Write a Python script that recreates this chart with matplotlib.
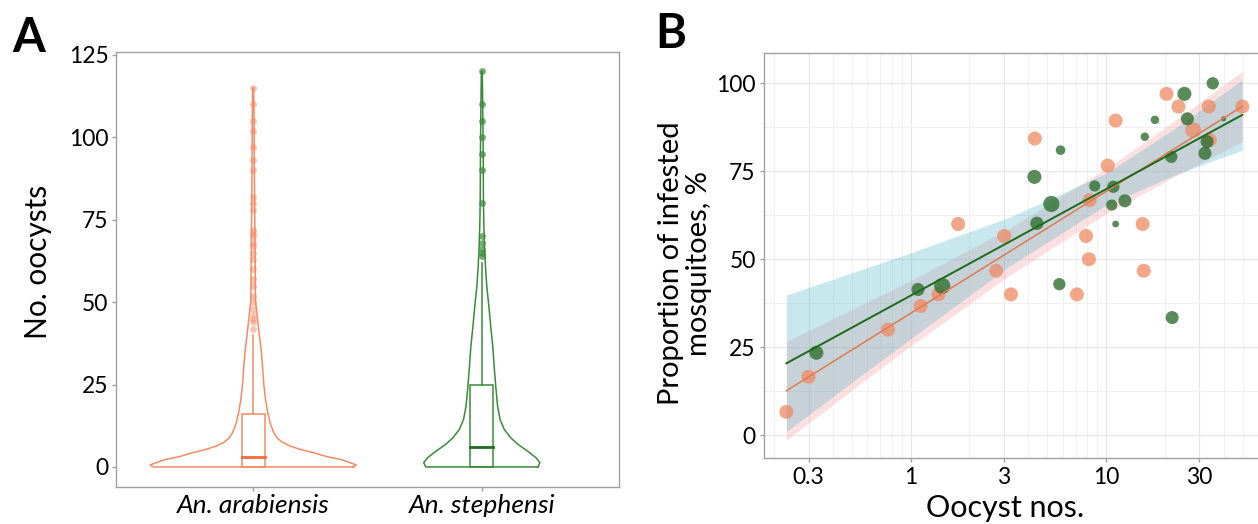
import numpy as np
import matplotlib
matplotlib.use('Agg')
import matplotlib.pyplot as plt
from matplotlib.patches import Rectangle

plt.rcParams['font.family'] = ['Lato', 'DejaVu Sans']

# ---------------- Panel A data: oocyst counts per mosquito ----------------
species = ['An. arabiensis', 'An. stephensi']

# violin outline: oocyst level and half width (category units)
arab_levels = [0, 0.6, 1.6, 2.3, 3.1, 4.3, 5.3, 6.3, 7.5, 8.8, 10.4, 12.9, 16.4, 20.4,
               25.4, 30.5, 35.5, 40.5, 45.6, 50.6, 60, 75, 90, 105, 115]
arab_half = [0.438, 0.451, 0.412, 0.381, 0.324, 0.265, 0.207, 0.163, 0.127, 0.105, 0.090,
             0.076, 0.064, 0.054, 0.046, 0.041, 0.035, 0.026, 0.018, 0.010, 0.009, 0.007,
             0.005, 0.004, 0.002]
steph_levels = [0, 1.3, 2.8, 4.8, 6.8, 8.8, 11.4, 14.4, 18.4, 24.4, 30.5, 36.5, 42.6, 48.6,
                54.6, 60.7, 66.7, 72.7, 80.8, 95, 110, 120]
steph_half = [0.245, 0.254, 0.237, 0.200, 0.159, 0.127, 0.098, 0.080, 0.069, 0.061, 0.054,
              0.048, 0.039, 0.031, 0.022, 0.016, 0.012, 0.009, 0.007, 0.006, 0.004, 0.002]

# box stats: q1, median, q3, upper whisker
arab_box = [0, 3, 16, 40]
steph_box = [0, 6, 25, 62]

arab_out = [42, 44, 45, 46, 48, 50, 52, 55, 57, 60, 63, 65, 67, 68, 70, 71, 72,
            78, 80, 82, 90, 93, 97, 102, 105, 110, 115]
steph_out = [64, 65, 66, 68, 70, 80, 90, 95, 100, 105, 110, 120]

# ---------------- Panel B data: infection prevalence vs oocyst load ----------------
orange_x = [0.231, 0.30, 0.765, 1.125, 1.387, 1.75, 2.74, 3.01, 3.26, 4.32, 7.1, 7.9,
            8.17, 8.24, 10.2, 11.2, 15.4, 15.6, 20.4, 23.5, 27.9, 33.6, 34.0, 49.9]
orange_y = [6.6, 16.6, 30.0, 36.7, 40.0, 60.0, 46.7, 56.6, 40.0, 84.3, 40.0, 56.6,
            50.0, 66.8, 76.6, 89.4, 60.0, 46.7, 97.0, 93.4, 86.7, 93.4, 83.9, 93.4]
orange_n = [30, 30, 30, 30, 30, 30, 30, 30, 30, 30, 30, 30,
            30, 30, 30, 30, 30, 30, 30, 30, 38, 30, 30, 30]

green_x = [0.329, 1.09, 1.45, 4.3, 4.43, 5.25, 5.77, 5.85, 8.75, 10.7, 10.9, 11.2,
           12.5, 15.8, 17.8, 21.6, 21.8, 25.2, 26.1, 32.1, 32.9, 35.2, 40.0]
green_y = [23.4, 41.4, 42.4, 73.4, 60.2, 65.7, 42.9, 81.0, 70.8, 65.4, 70.6, 60.0,
           66.6, 84.8, 89.6, 79.1, 33.4, 97.0, 89.9, 80.1, 83.4, 100.0, 89.9]
green_n = [30, 26, 40, 30, 27, 40, 23, 14, 19, 19, 23, 7,
           26, 11, 11, 23, 26, 30, 26, 26, 26, 23, 4]

# fitted lines (log-linear) and confidence bands
fit_x = [0.231, 0.562, 1.0, 3.162, 10.0, 22.4, 49.8]
green_line = [20.4, 91.0]
green_lo = [1.0, 17.1, 27.4, 47.8, 65.4, 73.9, 81.0]
green_hi = [39.8, 47.1, 51.8, 61.8, 74.4, 87.1, 101.0]
orange_line = [12.6, 93.4]
orange_lo = [-1.4, 14.9, 25.3, 45.2, 62.9, 73.5, 83.4]
orange_hi = [26.6, 37.1, 43.9, 58.6, 75.7, 89.3, 103.4]

x_major = [0.3, 1, 3, 10, 30]
x_labels = ['0.3', '1', '3', '10', '30']
x_minor = [0.2, 0.4, 0.5, 0.6, 0.7, 0.8, 0.9, 2, 4, 5, 6, 7, 8, 9, 20, 40, 50]

# ---------------- figure ----------------
W, H = 1258, 524
fig = plt.figure(figsize=(W / 100, H / 100), dpi=100)

def box(l, t, r, b):
    return [l / W, 1 - b / H, (r - l) / W, (b - t) / H]

ORANGE = '#F58A64'
ORANGE_DK = '#F06A3A'
GREEN = '#3A8A3A'
GREEN_DK = '#1E6B1E'
SPINE = '#A0A0A0'

# ---- Panel A ----
axA = fig.add_axes(box(116, 51.7, 619, 486.7))
violins = [(arab_levels, arab_half, arab_box, arab_out, ORANGE, ORANGE_DK, 0.5),
           (steph_levels, steph_half, steph_box, steph_out, GREEN, GREEN_DK, 0.7)]
for i, (lev, half, bx, out, col, dk, a) in enumerate(violins):
    c = i + 1
    lev = np.array(lev)
    half = np.array(half)
    xs = np.concatenate([c + half, (c - half)[::-1], [c + half[0]]])
    ys = np.concatenate([lev, lev[::-1], [lev[0]]])
    axA.plot(xs, ys, color=col, lw=1.1, solid_joinstyle='round')
    q1, med, q3, wh = bx
    axA.add_patch(Rectangle((c - 0.05, q1), 0.1, q3 - q1, fill=False, ec=col, lw=1.1))
    axA.plot([c - 0.05, c + 0.05], [med, med], color=dk, lw=2.0)
    axA.plot([c, c], [q3, wh], color=col, lw=1.1)
    axA.scatter([c] * len(out), out, s=24, color=col, alpha=a, lw=0)

axA.set_xlim(0.4, 2.6)
axA.set_ylim(-6, 126)
axA.set_yticks([0, 25, 50, 75, 100, 125])
axA.set_xticks([1, 2])
axA.set_xticklabels(species, fontstyle='italic', fontsize=19)
axA.tick_params(axis='y', labelsize=16.5)
axA.tick_params(length=3, width=1, color=SPINE, pad=2.5)
for s in axA.spines.values():
    s.set_color(SPINE)
    s.set_linewidth(1.0)
fig.text(38 / W, 1 - 261.5 / H, 'No. oocysts', rotation=90, ha='center', va='center',
         fontsize=21.5)
fig.text(12 / W, 1 - 52 / H, 'A', fontsize=34, fontweight='bold')

# ---- Panel B ----
axB = fig.add_axes(box(764, 52.7, 1265, 458.3))
axB.set_xscale('log')
axB.set_xlim(10 ** -0.751, 10 ** 1.814)
axB.set_ylim(-6.6, 108.7)
for v in x_minor:
    axB.axvline(v, color='#F0F0F0', lw=0.7, zorder=0)
for v in x_major:
    axB.axvline(v, color='#E8E8E8', lw=0.9, zorder=0)
for v in [12.5, 37.5, 62.5, 87.5]:
    axB.axhline(v, color='#F0F0F0', lw=0.7, zorder=0)
for v in [0, 25, 50, 75, 100]:
    axB.axhline(v, color='#E8E8E8', lw=0.9, zorder=0)

axB.fill_between(fit_x, orange_lo, orange_hi, color='#F69EA4', alpha=0.32, lw=0, zorder=1)
axB.fill_between(fit_x, green_lo, green_hi, color='#3EADC4', alpha=0.28, lw=0, zorder=1)

k = 3.4
axB.scatter(orange_x, orange_y, s=np.array(orange_n) * k, color='#F08A62', alpha=0.75,
            lw=0, zorder=2)
axB.scatter(green_x, green_y, s=np.array(green_n) * k, color='#2F6F2F', alpha=0.8,
            lw=0, zorder=2)
ends = [fit_x[0], fit_x[-1]]
axB.plot(ends, orange_line, color='#E07A4E', lw=1.1, zorder=3)
axB.plot(ends, green_line, color='#1B6B1B', lw=1.4, zorder=3)

axB.set_xticks(x_major)
axB.set_xticklabels(x_labels)
axB.xaxis.set_minor_locator(matplotlib.ticker.NullLocator())
axB.set_yticks([0, 25, 50, 75, 100])
axB.tick_params(labelsize=16.5, length=3, width=1, color=SPINE, pad=3)
for s in axB.spines.values():
    s.set_color(SPINE)
    s.set_linewidth(1.0)
fig.text(685 / W, 1 - 263 / H, 'Proportion of infested\nmosquitoes, %', rotation=90,
         ha='center', va='center', multialignment='center', fontsize=21, linespacing=1.05)
fig.text(1005 / W, 1 - 508 / H, 'Oocyst nos.', ha='center', va='center', fontsize=22)
fig.text(655 / W, 1 - 48 / H, 'B', fontsize=34, fontweight='bold')

fig.savefig('out.png', dpi=100)
